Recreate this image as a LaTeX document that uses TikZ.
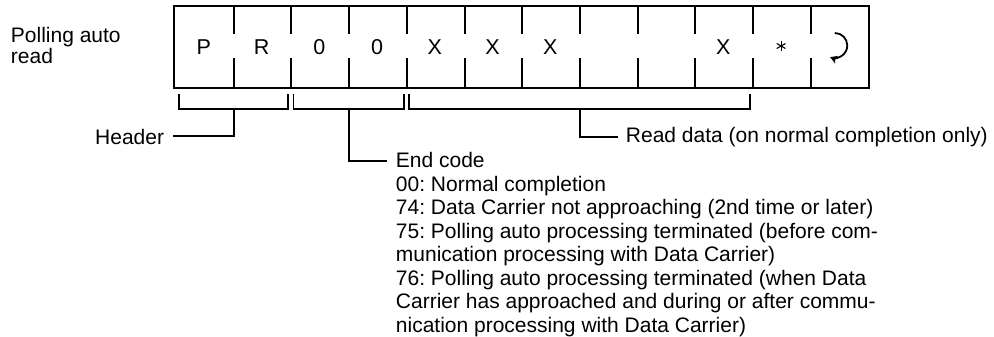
\documentclass[tikz,border=0pt]{standalone}
\usepackage{fontspec}
\setmainfont{Liberation Sans}
\frenchspacing
\usetikzlibrary{arrows.meta}
\begin{document}
\frenchspacing
\begin{tikzpicture}[x=1pt,y=-1pt,line width=1.9pt,
  txt/.style={font=\fontsize{21}{23.5}\selectfont,inner sep=0pt,align=left},
  cellbox/.style={minimum width=57.72pt,minimum height=80pt,inner sep=0pt,
    font=\fontsize{21.5}{23.5}\selectfont},
  bracket/.style={line width=1.9pt},
  conn/.style={line width=1.9pt}]
\useasboundingbox (0,0) rectangle (994,337);
% cells
\foreach \i/\t in {1/P,2/R,3/0,4/0,5/X,6/X,7/X,8/{},9/{},10/X,11/{},12/{}}
  \node[cellbox] (c\i) at ({175+(\i-0.5)*57.72},47) {\t};
\draw (c1.north west) rectangle (c12.south east);
\foreach \i in {1,...,11}{
  \draw (c\i.north east) -- ++(0,28);
  \draw (c\i.south east) -- ++(0,-30);
}
% asterisk
\foreach \a in {90,30,-30}
  \draw[line width=1.1pt] ([shift={(\a:5pt)},yshift=1pt]c11.center) -- ([shift={(\a+180:5pt)},yshift=1pt]c11.center);
% return symbol
\draw[-{Stealth[length=7pt,width=8pt,inset=1.5pt]},line width=1.8pt]
  ([xshift=-4pt,yshift=14pt]c12.center) arc[start angle=90,end angle=-112,radius=12.5pt];
% left label
\node[txt,anchor=north west,font=\fontsize{21}{19.5}\selectfont] (lbl) at (10,26.8) {Polling auto\\read};
% brackets
\draw[bracket] ([xshift=4.5pt,yshift=-6pt]c1.south west) -- ++(0,15)
  -- ([xshift=-3pt,yshift=-21pt]c2.south east) -- ++(0,-15);
\draw[bracket] ([xshift=4pt,yshift=-6pt]c3.south west) -- ++(0,15)
  -- ([xshift=-3pt,yshift=-21pt]c4.south east) -- ++(0,-15);
\draw[bracket] ([xshift=4pt,yshift=-6pt]c5.south west) -- ++(0,15)
  -- ([xshift=-3.5pt,yshift=-21pt]c10.south east) -- ++(0,-15);
\coordinate (b1s) at ([yshift=-21pt]c1.south east);
\coordinate (b2s) at ([yshift=-21pt]c3.south east);
\coordinate (b3s) at ([yshift=-21pt]c7.south east);
% labels
\node[txt,anchor=base east] (hdr) at (165,144) {Header};
\node[txt,anchor=base west] (rd) at (625,142.5) {Read data (on normal completion only)};
\node[txt,anchor=north west] (ec) at (395,151.7) {End code\\
00: Normal completion\\
74: Data Carrier not approaching (2nd time or later)\\
75: Polling auto processing terminated (before com-\\
munication processing with Data Carrier)\\
76: Polling auto processing terminated (when Data\\
Carrier has approached and during or after commu-\\
nication processing with Data Carrier)};
\coordinate (ecend) at (387,161);
% connectors
\draw[conn] (b1s) |- ([xshift=8pt,yshift=0.5pt]hdr.east);
\draw[conn] (b2s) |- (ecend);
\draw[conn] (b3s) |- ([xshift=-7pt,yshift=0.5pt]rd.west);
\end{tikzpicture}
\end{document}
